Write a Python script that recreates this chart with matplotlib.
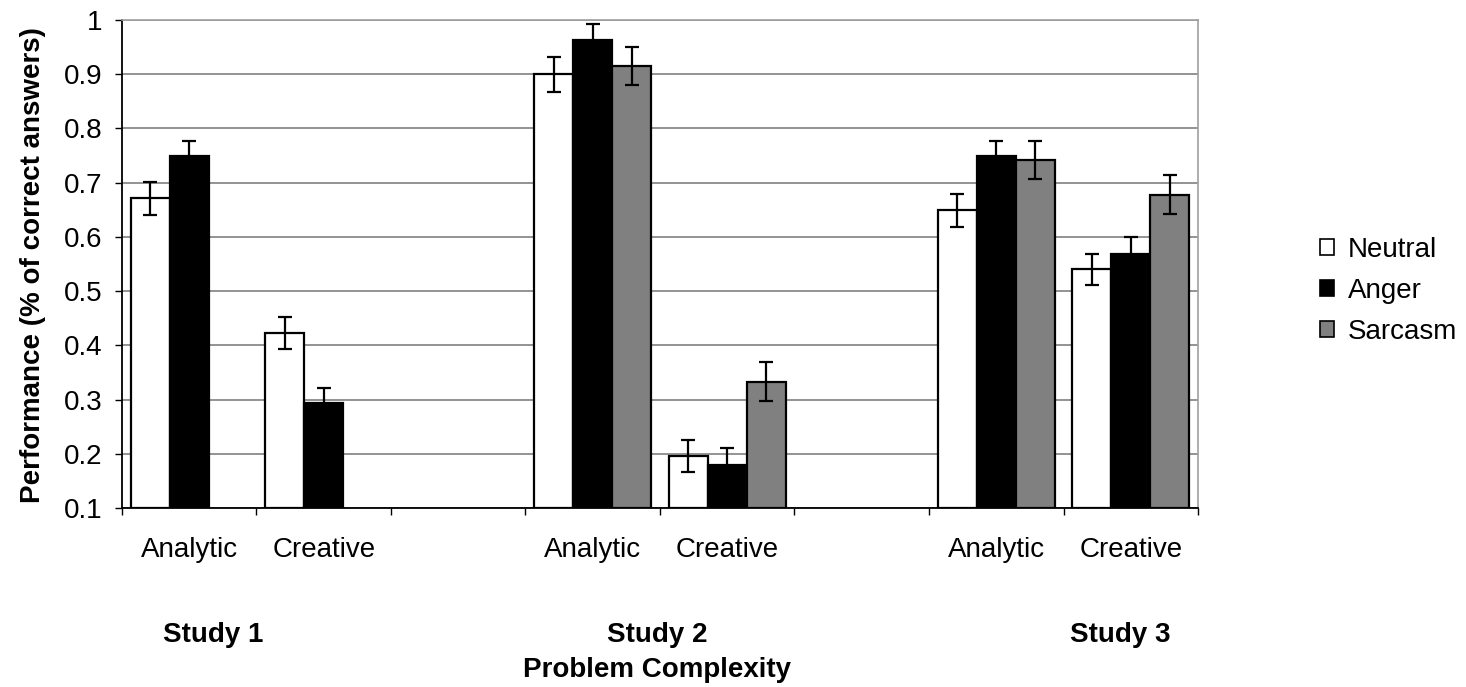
import numpy as np
import matplotlib
matplotlib.use("Agg")
import matplotlib.pyplot as plt
from matplotlib.ticker import FuncFormatter
from matplotlib.transforms import blended_transform_factory

plt.rcParams['font.family'] = ['Liberation Sans', 'DejaVu Sans']

# data: 8 slots, the 3rd and 6th are empty spacers
slot_labels = ['Analytic', 'Creative', '', 'Analytic', 'Creative', '', 'Analytic', 'Creative']
series = ['Neutral', 'Anger', 'Sarcasm']
neutral = [0.671, 0.423, np.nan, 0.900, 0.196, np.nan, 0.649, 0.540]
anger = [0.749, 0.294, np.nan, 0.964, 0.180, np.nan, 0.749, 0.569]
sarcasm = [np.nan, np.nan, np.nan, 0.915, 0.333, np.nan, 0.741, 0.678]
neutral_err = [0.030, 0.029, np.nan, 0.032, 0.030, np.nan, 0.030, 0.029]
anger_err = [0.028, 0.028, np.nan, 0.028, 0.030, np.nan, 0.028, 0.031]
sarcasm_err = [np.nan, np.nan, np.nan, 0.035, 0.036, np.nan, 0.035, 0.036]
studies = ['Study 1', 'Study 2', 'Study 3']
study_pos = [0.68, 3.98, 7.42]

values = [neutral, anger, sarcasm]
errors = [neutral_err, anger_err, sarcasm_err]
colors = ['white', 'black', '#808080']
fs = 20

fig = plt.figure(figsize=(14.66, 6.87), dpi=100)
ax = fig.add_axes([0.0832, 0.2606, 0.8172 - 0.0832, 0.9709 - 0.2606])

x = np.arange(len(slot_labels)) + 0.5
w = 0.29
base = 0.1
for i, (vals, errs, c) in enumerate(zip(values, errors, colors)):
    vals = np.array(vals, dtype=float)
    errs = np.array(errs, dtype=float)
    pos = x + (i - 1) * w
    ok = ~np.isnan(vals)
    ax.bar(pos[ok], vals[ok] - base, bottom=base, width=w, color=c,
           edgecolor='black', linewidth=1.6, label=series[i], zorder=3)
    ax.errorbar(pos[ok], vals[ok], yerr=errs[ok], fmt='none', ecolor='black',
                elinewidth=1.6, capsize=5, capthick=1.6, zorder=4)

ax.set_xlim(0, len(slot_labels))
ax.set_ylim(0.1, 1.0)
ax.set_yticks(np.arange(0.1, 1.01, 0.1))
ax.yaxis.set_major_formatter(FuncFormatter(lambda v, p: "1" if v > 0.999 else f"{v:.1f}"))
ax.set_xticks(np.arange(0, len(slot_labels) + 1))
ax.set_xticklabels([])
ax.tick_params(axis='both', direction='out', length=5, width=1, color='black', labelsize=fs)
ax.tick_params(axis='y', pad=9)

ax.yaxis.grid(True, color='#808080', linewidth=1.2, zorder=0)
ax.set_axisbelow(True)
for side in ['top', 'right']:
    ax.spines[side].set_color('#a0a0a0')
    ax.spines[side].set_linewidth(1.2)
for side in ['left', 'bottom']:
    ax.spines[side].set_color('black')
    ax.spines[side].set_linewidth(1.3)

trans = blended_transform_factory(ax.transData, fig.transFigure)
for xi, lab in zip(x, slot_labels):
    if lab:
        ax.text(xi, 1 - 550 / 687, lab, transform=trans, ha='center', va='center', fontsize=fs)
for xs, lab in zip(study_pos, studies):
    ax.text(xs, 1 - 635 / 687, lab, transform=trans, ha='center', va='center',
            fontsize=fs, fontweight='bold')
ax.text(3.98, 1 - 670 / 687, 'Problem Complexity', transform=trans, ha='center', va='center',
        fontsize=fs, fontweight='bold')

fig.text(33 / 1466, 1 - 265 / 687, 'Performance (% of correct answers)', rotation=90,
         ha='center', va='center', fontsize=fs, fontweight='bold')

leg = fig.legend(loc='center left', bbox_to_anchor=(1320 / 1466, 1 - 291 / 687), frameon=False,
                 fontsize=fs, handlelength=0.5, handleheight=0.5, borderpad=0, borderaxespad=0,
                 handletextpad=0.5, labelspacing=0.55)
for h in leg.legend_handles:
    h.set_linewidth(1.2)

fig.savefig('out.png', dpi=100)
